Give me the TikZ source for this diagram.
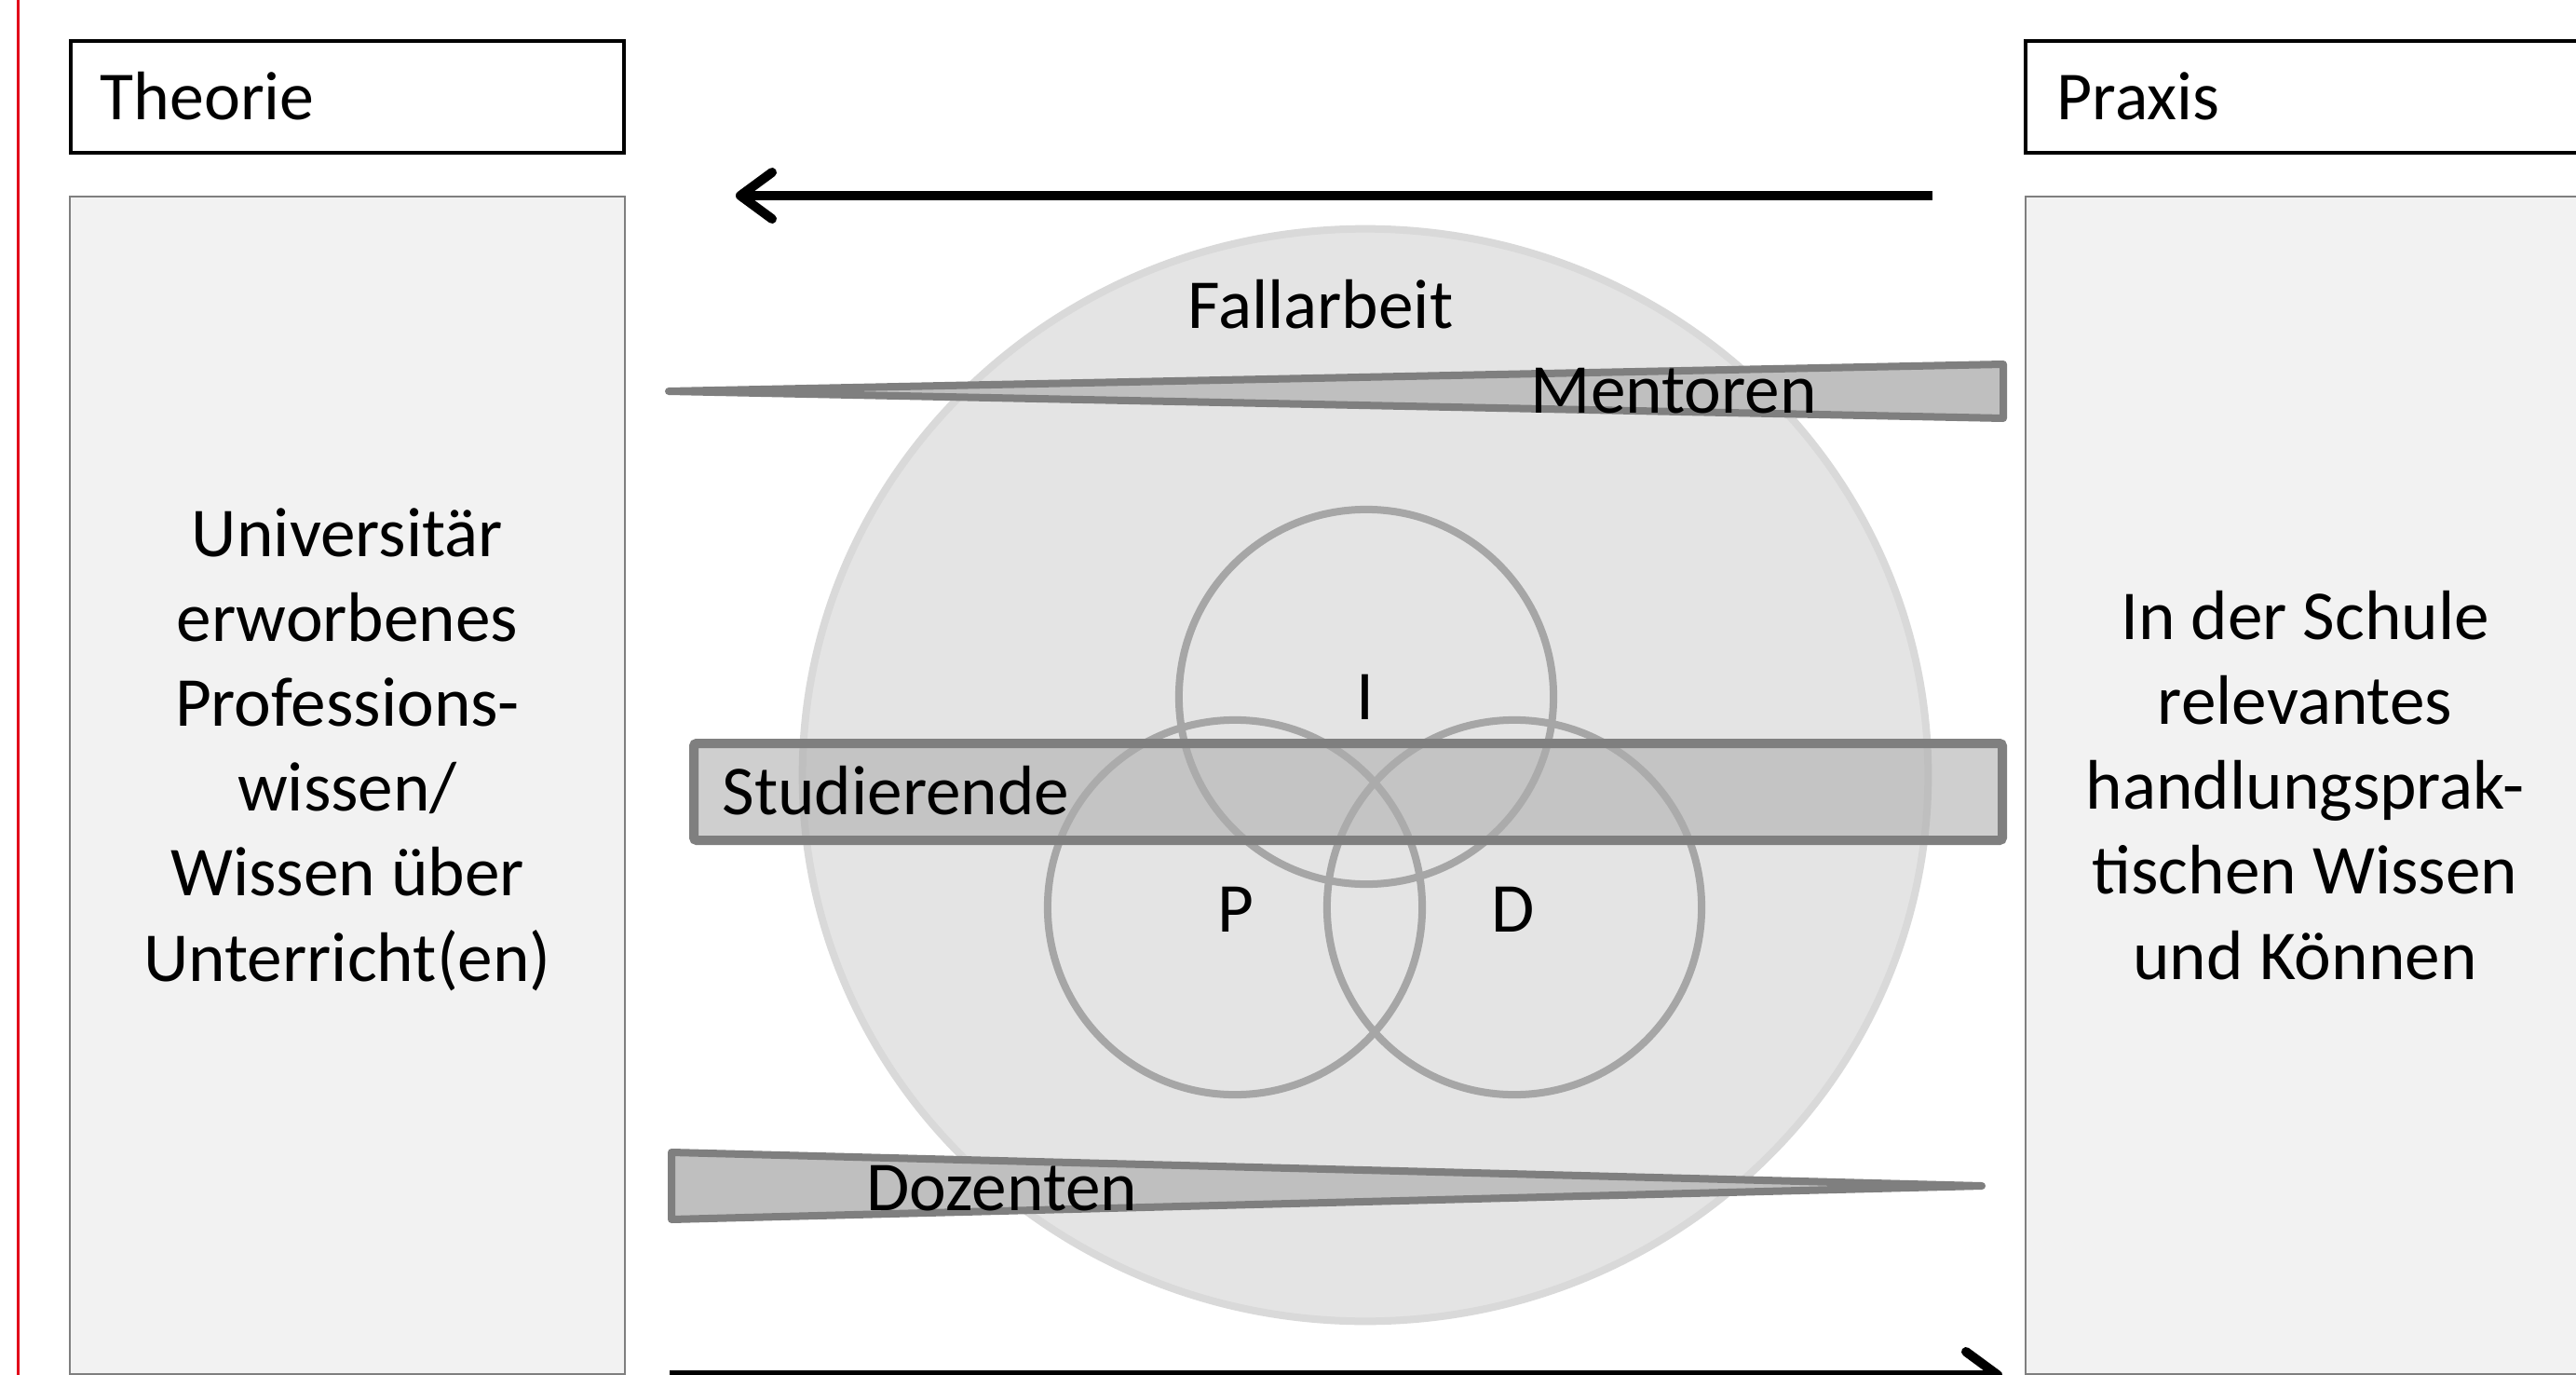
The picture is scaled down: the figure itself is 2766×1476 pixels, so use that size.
\documentclass[tikz,border=0pt]{standalone}
\usepackage{fontspec}
\setmainfont{Carlito}
\usetikzlibrary{arrows.meta}
\definecolor{redline}{HTML}{E2001A}
\definecolor{sidefill}{HTML}{F2F2F2}
\definecolor{sidedraw}{HTML}{7F7F7F}
\definecolor{bigfill}{HTML}{E4E4E4}
\definecolor{bigdraw}{HTML}{D9D9D9}
\definecolor{ringgray}{HTML}{A6A6A6}
\definecolor{wedgefill}{HTML}{BFBFBF}
\definecolor{wedgedraw}{HTML}{7F7F7F}
\definecolor{bandfill}{HTML}{AFAFAF}
\begin{document}
\begin{tikzpicture}[x=0.01cm,y=-0.01cm,
  headbox/.style={draw=black,fill=white,line width=0.04cm,inner sep=0pt,minimum width=5.94cm,minimum height=1.2cm},
  sidebox/.style={draw=sidedraw,fill=sidefill,line width=0.02cm,inner sep=0pt,minimum width=5.96cm,minimum height=12.64cm},
  headtext/.style={inner sep=0pt,font={\fontsize{21pt}{26pt}\selectfont}},
  labeltext/.style={inner sep=0pt,font={\fontsize{21.4pt}{26pt}\selectfont}},
  sidetext/.style={inner sep=0pt,align=center,font={\fontsize{21.4pt}{25.9pt}\selectfont}},
  ring/.style={draw=ringgray,line width=0.08cm},
  wedgeshape/.style={draw=wedgedraw,fill=wedgefill,line width=0.08cm,line join=round},
  bigarrow/.style={draw=black,line width=0.1cm,-{Straight Barb[length=0.34cm,width=0.5cm,line cap=round,line join=round]}}
]
\useasboundingbox (0,0) rectangle (2766,1476);
\clip (0,0) rectangle (2766,1476);
\fill[white] (0,0) rectangle (2766,1476);

% red margin line
\coordinate (redtop) at (19.5,0);
\coordinate (redbot) at (19.5,1476);
\draw[redline,line width=0.02cm] (redtop) -- (redbot);

% header boxes
\node[headbox] (theoriebox) at (373,104) {};
\node[headtext,anchor=base west] (theorie) at (107,129) {Theorie};
\node[headbox,minimum width=6cm] (praxisbox) at (2475,104) {};
\node[headtext,anchor=base west] (praxis) at (2208,129) {Praxis};

% side boxes
\node[sidebox] (leftbox) at (373,843) {};
\node[sidebox,minimum width=6cm] (rightbox) at (2475,843) {};
\node[sidetext,anchor=base] (lefttext) at (373,1053) {Universitär\\erworbenes\\Professions-\\wissen/\\Wissen über\\Unterricht(en)};
\node[sidetext,anchor=base] (righttext) at (2475,1051) {In der Schule\\relevantes\\handlungsprak-\\tischen Wissen\\und Können};

% big circle
\fill[bigfill] (1466,832) ellipse [x radius=6.04cm, y radius=5.86cm];
\draw[bigdraw,line width=0.08cm] (1466,832) ellipse [x radius=6.04cm, y radius=5.86cm];

% three circles
\draw[ring] (1467,748) circle [radius=2.01cm];
\draw[ring] (1326,974) circle [radius=2.01cm];
\draw[ring] (1626,974) circle [radius=2.01cm];

% Studierende band
\path[fill=bandfill,fill opacity=0.6] (745,798) rectangle (2150,902);
\draw[sidedraw,line width=0.1cm,rounded corners=0.03cm] (745,798) rectangle (2150,902);

% wedges
\filldraw[wedgeshape] (718,420) -- (2151,391) -- (2151,449) -- cycle;
\filldraw[wedgeshape] (721,1237) -- (2128,1273) -- (721,1309) -- cycle;

% labels
\node[labeltext,anchor=base] (fallarbeit) at (1418,353) {Fallarbeit};
\node[labeltext,anchor=base west] (mentoren) at (1643,443) {Mentoren};
\node[labeltext,anchor=base west] (studierende) at (775,874) {Studierende};
\node[labeltext,anchor=base west] (dozenten) at (930,1299) {Dozenten};
\node[labeltext,anchor=base] (lblI) at (1466,772) {I};
\node[labeltext,anchor=base] (lblP) at (1327,1000) {P};
\node[labeltext,anchor=base] (lblD) at (1625,1000) {D};

% arrows
\coordinate (topR) at (2075,210);
\coordinate (topL) at (790,210);
\draw[bigarrow] (topR) -- (topL);
\coordinate (botL) at (719,1476);
\coordinate (botR) at (2150,1476);
\draw[bigarrow] (botL) -- (botR);
\end{tikzpicture}
\end{document}
